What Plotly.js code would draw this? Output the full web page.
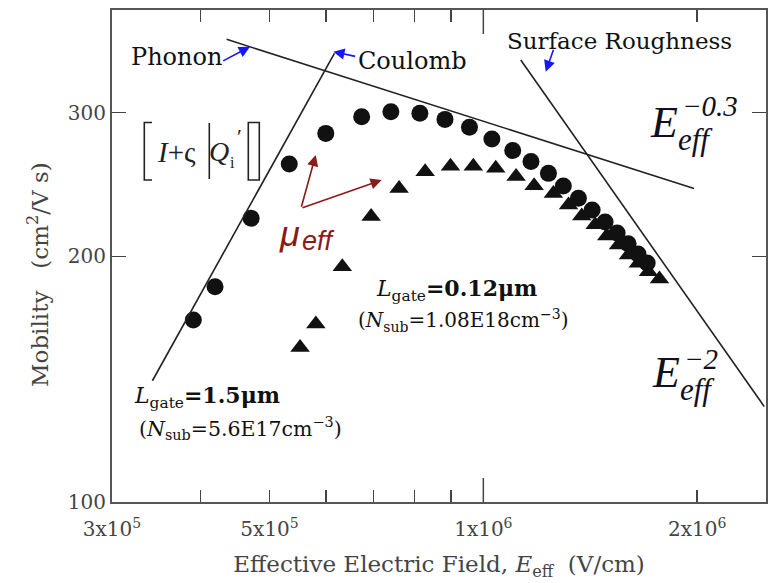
<!DOCTYPE html>
<html>
<head>
<meta charset="utf-8">
<script src="https://cdn.plot.ly/plotly-3.0.1.min.js"></script>
<style>html,body{margin:0;padding:0;background:#fff;}#chart{width:768px;height:583px;}</style>
</head>
<body>
<div id="chart"></div>
<script>
// ---- data ----
// Lgate = 1.5 um (circles)
const longField = [3.905e5, 4.19e5, 4.71e5, 5.33e5, 6.00e5, 6.74e5, 7.41e5, 8.14e5, 8.83e5, 9.56e5, 1.028e6, 1.100e6, 1.167e6, 1.235e6, 1.296e6, 1.361e6, 1.423e6, 1.484e6, 1.543e6, 1.599e6, 1.651e6, 1.701e6];
const longMob   = [167.1, 183.6, 222.7, 259.5, 283.0, 296.6, 300.8, 299.5, 294.4, 287.9, 278.5, 269.6, 261.4, 252.8, 243.9, 235.6, 228.0, 220.4, 213.7, 207.2, 201.4, 196.3];
// Lgate = 0.12 um (triangles)
const shortField = [5.52e5, 5.81e5, 6.33e5, 6.95e5, 7.61e5, 8.28e5, 8.99e5, 9.68e5, 1.041e6, 1.112e6, 1.179e6, 1.255e6, 1.318e6, 1.376e6, 1.437e6, 1.492e6, 1.550e6, 1.601e6, 1.653e6, 1.708e6, 1.770e6];
const shortMob   = [154.6, 165.2, 194.2, 223.9, 242.3, 253.9, 258.0, 258.0, 256.4, 250.6, 244.2, 238.9, 231.2, 224.2, 218.6, 211.8, 206.5, 200.8, 196.1, 191.5, 187.6];
// guide lines (limiting mechanisms)
const phononX  = [4.35e5, 1.98e6];  const phononY  = [369.0, 242.3];
const coulombX = [3.42e5, 6.17e5];  const coulombY = [140.8, 354.7];
const roughX   = [1.129e6, 2.486e6]; const roughY  = [348.1, 130.9];
// ticks
const xTickVals = [3e5, 4e5, 5e5, 6e5, 7e5, 8e5, 9e5, 1e6, 2e6];
const xTickText = ['3x10<sup>5</sup>', '', '5x10<sup>5</sup>', '', '', '', '', '1x10<sup>6</sup>', '2x10<sup>6</sup>'];
const yTickVals = [100, 200, 300];
const yTickText = ['100', '200', '300'];
const xRange = [Math.log10(3e5), 6.398];
const yRange = [2, 2.603];

// ---- layout helpers (pixel -> paper) ----
const L = 112, R = 766, T = 10, B = 502;
const px = v => (v - L) / (R - L);
const py = v => (B - v) / (B - T);
const SERIF = 'DejaVu Serif';
const TNR = 'Liberation Serif';

function txt(text, x, y, size, opts) {
  return Object.assign({
    text: text, xref: 'paper', yref: 'paper', x: px(x), y: py(y),
    xanchor: 'center', yanchor: 'middle', showarrow: false,
    font: {family: SERIF, size: size, color: '#111'}
  }, opts || {});
}
function arrow(hx, hy, tx, ty, color) {
  return {
    text: '', xref: 'paper', yref: 'paper', x: px(hx), y: py(hy),
    ax: tx - hx, ay: ty - hy, showarrow: true,
    arrowhead: 2, arrowsize: 1.4, arrowwidth: 1.6, arrowcolor: color, standoff: 0
  };
}

const lineStyle = {color: '#222', width: 1.6};
const traces = [
  {x: longField, y: longMob, mode: 'markers', type: 'scatter',
   marker: {symbol: 'circle', size: 17, color: '#111'}},
  {x: shortField, y: shortMob, mode: 'markers', type: 'scatter',
   marker: {symbol: 'triangle-up', size: 17, color: '#111'}},
  {x: phononX, y: phononY, mode: 'lines', type: 'scatter', line: lineStyle},
  {x: coulombX, y: coulombY, mode: 'lines', type: 'scatter', line: lineStyle},
  {x: roughX, y: roughY, mode: 'lines', type: 'scatter', line: lineStyle}
];

const annotations = [
  // y-axis title (placed like the reference, slightly below centre)
  txt('Mobility   (cm<sup>2</sup>/V s)', 38, 275, 23, {textangle: -90, font: {family: SERIF, size: 23, color: '#444'}}),
  txt('Phonon', 176, 57, 24),
  txt('Coulomb', 412, 61, 24),
  txt('Surface Roughness', 619, 41, 23),
  arrow(250, 46.7, 221.7, 61.7, '#1515ff'),
  arrow(333.3, 51.7, 356.7, 56.7, '#1515ff'),
  arrow(545.7, 71.7, 554, 48.3, '#1515ff'),
  // E_eff^-0.3
  txt('<i>E</i>', 664, 122, 44, {font: {family: TNR, size: 44, color: '#101020'}}),
  txt('<i>eff</i>', 695, 139, 31, {font: {family: TNR, size: 31, color: '#101020'}}),
  txt('<i>−0.3</i>', 710, 106, 29, {font: {family: TNR, size: 29, color: '#101020'}}),
  // E_eff^-2
  txt('<i>E</i>', 666, 372, 44, {font: {family: TNR, size: 44, color: '#101020'}}),
  txt('<i>eff</i>', 697, 389, 31, {font: {family: TNR, size: 31, color: '#101020'}}),
  txt('<i>−2</i>', 701, 359, 29, {font: {family: TNR, size: 29, color: '#101020'}}),
  // bracket formula
  txt('<i>I</i>+ς', 176, 152, 29, {font: {family: TNR, size: 29, color: '#222'}}),
  txt('<i>Q</i>', 219, 152, 28, {font: {family: TNR, size: 28, color: '#222'}}),
  txt('i', 232, 162, 16, {font: {family: TNR, size: 16, color: '#222'}}),
  txt('′', 239, 136, 22, {font: {family: TNR, size: 22, color: '#222'}}),
  // mu_eff
  txt('<i>μ</i>', 289, 233, 36, {font: {family: 'Liberation Sans', size: 36, color: '#8b1a1a'}}),
  txt('<i>eff</i>', 318, 241, 27, {font: {family: 'Liberation Sans', size: 27, color: '#8b1a1a'}}),
  arrow(315.7, 155, 301, 208.3, '#8b1a1a'),
  arrow(381.7, 180, 301, 208.3, '#8b1a1a'),
  // device labels
  txt('<i>L</i><sub>gate</sub><b>=0.12μm</b>', 456, 290, 22),
  txt('(<i>N</i><sub>sub</sub>=1.08E18cm<sup>−3</sup>)', 463, 320, 20),
  txt('<i>L</i><sub>gate</sub><b>=1.5μm</b>', 207, 397, 22),
  txt('(<i>N</i><sub>sub</sub>=5.6E17cm<sup>−3</sup>)', 240, 428, 20.5)
];

const shapes = [
  // long tick at 1x10^6 (bottom and top)
  {type: 'line', xref: 'x', yref: 'paper', x0: 1e6, x1: 1e6, y0: 0, y1: 24 / 492, line: {color: '#444', width: 1.5}},
  {type: 'line', xref: 'x', yref: 'paper', x0: 1e6, x1: 1e6, y0: 1, y1: 1 - 24 / 492, line: {color: '#444', width: 1.5}},
  // left bracket
  {type: 'path', xref: 'paper', yref: 'paper',
   path: `M ${px(152)} ${py(122.5)} L ${px(144.3)} ${py(122.5)} L ${px(144.3)} ${py(180)} L ${px(152)} ${py(180)}`,
   line: {color: '#222', width: 1.6}},
  // abs bar
  {type: 'line', xref: 'paper', yref: 'paper', x0: px(209.3), x1: px(209.3), y0: py(123), y1: py(179), line: {color: '#222', width: 1.6}},
  // right abs bar + bracket
  {type: 'rect', xref: 'paper', yref: 'paper', x0: px(248.3), x1: px(259.3), y0: py(122.5), y1: py(180), line: {color: '#222', width: 1.6}}
];

const axisCommon = {
  type: 'log', showgrid: false, zeroline: false,
  showline: true, linecolor: '#555', linewidth: 2, mirror: 'ticks',
  ticks: 'inside', tickcolor: '#444', tickwidth: 1.5,
  tickmode: 'array', tickfont: {family: SERIF, size: 20, color: '#444'}
};

const layout = {
  width: 768, height: 583,
  margin: {l: L, r: 768 - R, t: T, b: 583 - B, pad: 0},
  paper_bgcolor: '#fff', plot_bgcolor: '#fff',
  showlegend: false,
  font: {family: SERIF, color: '#111'},
  xaxis: Object.assign({}, axisCommon, {
    range: xRange, tickvals: xTickVals, ticktext: xTickText, ticklen: 12,
    ticklabelstandoff: 8,
    title: {text: 'Effective Electric Field, <i>E</i><sub>eff</sub>  (V/cm)', font: {family: SERIF, size: 23, color: '#444'}, standoff: 16}
  }),
  yaxis: Object.assign({}, axisCommon, {
    range: yRange, tickvals: yTickVals, ticktext: yTickText, ticklen: 14
  }),
  annotations: annotations,
  shapes: shapes
};

Plotly.newPlot('chart', traces, layout, {staticPlot: true, displayModeBar: false});
</script>
</body>
</html>
